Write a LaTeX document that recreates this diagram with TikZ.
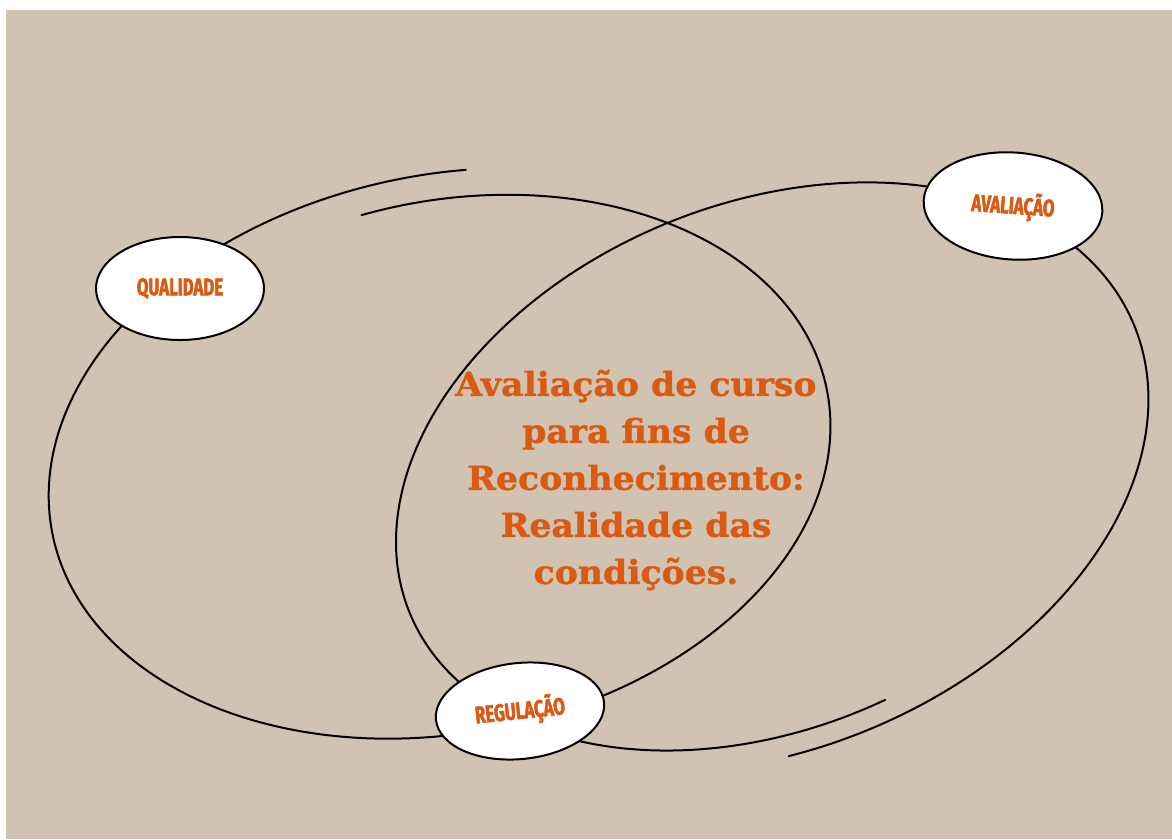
\documentclass[tikz,border=0pt]{standalone}
\usepackage{fontspec}
\usepackage{tikz}
\usetikzlibrary{shapes.geometric, positioning}

\newfontfamily\tagfont[FakeStretch=0.7, FakeBold=2]{Fira Sans}
\newfontfamily\slabfont[FakeStretch=1.05, FakeBold=1.2]{DejaVu Serif}
\definecolor{sand}{HTML}{D0C3B2}
\definecolor{rust}{HTML}{DA5A12}

\tikzset{
  tagbox/.style={ellipse, draw=black, line width=2pt, fill=white, inner sep=0pt,
    text=rust, font=\tagfont\bfseries\fontsize{24}{24}\selectfont},
  orbit/.style={line width=2pt, line cap=round},
}

\begin{document}
\begin{tikzpicture}[x=1pt, y=1pt]
  \useasboundingbox (0,0) rectangle (1172,-839);
  \fill[white] (0,0) rectangle (1172,-839);
  \fill[sand] (6,-10) rectangle (1172,-839);
  % two open ellipses, each drawn as a slight inward spiral
  \foreach \cx/\cy/\a/\b/\th/\ta/\tb/\sa/\sb in
      {449/460/398/275/11/80/456/1.04/0.94,
       765/472/392/269/22/258/634/1.035/0.955}
    \draw[orbit] plot[smooth, domain=\ta:\tb, samples=180, variable=\ang]
      ({\cx + (\sa+(\sb-\sa)*(\ang-\ta)/(\tb-\ta))*(\a*cos(\ang)*cos(\th) - \b*sin(\ang)*sin(\th))},
       {-\cy + (\sa+(\sb-\sa)*(\ang-\ta)/(\tb-\ta))*(\a*cos(\ang)*sin(\th) + \b*sin(\ang)*cos(\th))});
  % labels on the rings
  \node[tagbox, minimum width=168, minimum height=103] (qual) at (180,-288.5) {QUALIDADE};
  \node[tagbox, minimum width=179, minimum height=107, rotate=-4] (aval) at (1013,-206) {AVALIAÇÃO};
  \node[tagbox, minimum width=169, minimum height=96, rotate=6] (regu) at (520,-711) {REGULAÇÃO};
  % title
  \node[font=\slabfont\bfseries\fontsize{33}{47}\selectfont, text=rust, align=center, inner sep=0pt]
    (title) at (636,-480) {Avaliação de curso\\para fins de\\Reconhecimento:\\Realidade das\\condições.};
\end{tikzpicture}
\end{document}
